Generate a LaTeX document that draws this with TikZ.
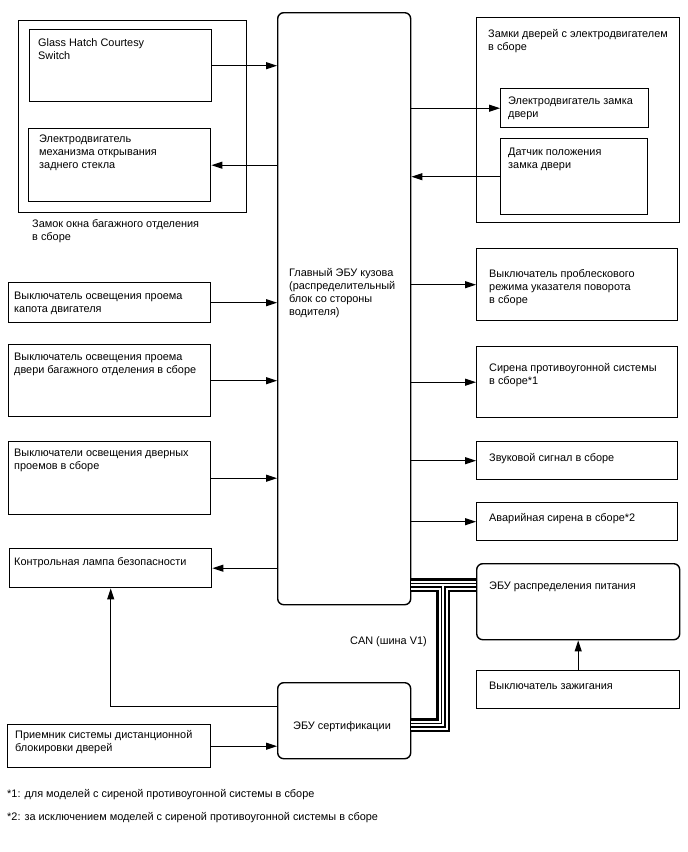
\documentclass[tikz,border=0pt]{standalone}
\usepackage{fontspec}
\setmainfont{Liberation Sans}
\usetikzlibrary{arrows.meta,positioning}

\tikzset{
  blk/.style={draw, line width=1.4pt, anchor=north west, inner sep=0pt},
  ecu/.style={blk, rounded corners=6pt},
  txt/.style={anchor=north west, inner sep=0pt, align=left, font=\fontsize{10.9}{13}\selectfont},
  sig/.style={line width=1.1pt, -{Triangle[length=11pt,width=7pt]}},
}

\begin{document}
\begin{tikzpicture}[x=1pt,y={(0pt,-1pt)}]
\useasboundingbox (0,0) rectangle (688,852);
% boxes
\node[blk, minimum width=228, minimum height=192] (hatchgrp) at (18,20) {};
\node[blk, minimum width=182, minimum height=72] (glass) at (29,29) {};
\node[blk, minimum width=182, minimum height=73] (hatchmtr) at (28,128) {};
\node[ecu, minimum width=133, minimum height=592] (main) at (277,12) {};
\node[blk, minimum width=203, minimum height=205] (doorgrp) at (476,17) {};
\node[blk, minimum width=148, minimum height=39] (lockmtr) at (500,88) {};
\node[blk, minimum width=147, minimum height=76] (locksw) at (500,138) {};
\node[blk, minimum width=202, minimum height=40] (hoodsw) at (8,282) {};
\node[blk, minimum width=202, minimum height=72] (trunksw) at (8,344) {};
\node[blk, minimum width=202, minimum height=73] (doorsw) at (8,441) {};
\node[blk, minimum width=202, minimum height=39] (lamp) at (9,548) {};
\node[blk, minimum width=203, minimum height=43] (recv) at (7,724) {};
\node[ecu, minimum width=133, minimum height=76] (cert) at (277,682) {};
\node[blk, minimum width=201, minimum height=72] (turnsw) at (476,248) {};
\node[blk, minimum width=201, minimum height=71] (siren) at (476,346) {};
\node[blk, minimum width=201, minimum height=38] (horn) at (476,441) {};
\node[blk, minimum width=201, minimum height=38] (hazard) at (476,502) {};
\node[ecu, minimum width=203, minimum height=76] (power) at (476,563) {};
\node[blk, minimum width=203, minimum height=38] (ign) at (476,670) {};
% texts
\node[txt] (glass-t) at (38,38) {Glass Hatch Courtesy\\Switch};
\node[txt] (hatchmtr-t) at (39,135) {Электродвигатель\\механизма открывания\\заднего стекла};
\node[txt] (hatchgrp-t) at (32,219) {Замок окна багажного отделения\\в сборе};
\node[txt] (main-t) at (289,268) {Главный ЭБУ кузова\\(распределительный\\блок со стороны\\водителя)};
\node[txt] (doorgrp-t) at (488,29) {Замки дверей с электродвигателем\\в сборе};
\node[txt] (lockmtr-t) at (508,97) {Электродвигатель замка\\двери};
\node[txt] (locksw-t) at (508,148) {Датчик положения\\замка двери};
\node[txt] (hoodsw-t) at (14,292) {Выключатель освещения проема\\капота двигателя};
\node[txt] (trunksw-t) at (14,353) {Выключатель освещения проема\\двери багажного отделения в сборе};
\node[txt] (doorsw-t) at (14,449) {Выключатели освещения дверных\\проемов в сборе};
\node[txt] (lamp-t) at (14,557) {Контрольная лампа безопасности};
\node[txt] (recv-t) at (15,730) {Приемник системы дистанционной\\блокировки дверей};
\node[txt] (cert-t) at (293,721) {ЭБУ сертификации};
\node[txt] (turnsw-t) at (489,269) {Выключатель проблескового\\режима указателя поворота\\в сборе};
\node[txt] (siren-t) at (489,363) {Сирена противоугонной системы\\в сборе*1};
\node[txt] (horn-t) at (489,453) {Звуковой сигнал в сборе};
\node[txt] (hazard-t) at (489,513) {Аварийная сирена в сборе*2};
\node[txt] (power-t) at (489,582) {ЭБУ распределения питания};
\node[txt] (ign-t) at (489,682) {Выключатель зажигания};
\node[txt] (can-t) at (350,636) {CAN (шина V1)};
\node[txt] (note1) at (7,789) {*1: для моделей с сиреной противоугонной системы в сборе};
\node[txt] (note2) at (7,812) {*2: за исключением моделей с сиреной противоугонной системы в сборе};
% signals
\draw[sig] (glass.east) -- (glass.east -| main.west);
\draw[sig] (hatchmtr.east -| main.west) -- (hatchmtr.east);
\draw[sig] (lockmtr.west -| main.east) -- (lockmtr.west);
\draw[sig] (locksw.west) -- (locksw.west -| main.east);
\draw[sig] (hoodsw.east) -- (hoodsw.east -| main.west);
\draw[sig] (trunksw.east) -- (trunksw.east -| main.west);
\draw[sig] (doorsw.east) -- (doorsw.east -| main.west);
\draw[sig] (lamp.east -| main.west) -- (lamp.east);
\draw[sig] (main.east |- turnsw.west) -- (turnsw.west);
\draw[sig] (main.east |- siren.west) -- (siren.west);
\draw[sig] (main.east |- horn.west) -- (horn.west);
\draw[sig] (main.east |- hazard.west) -- (hazard.west);
\draw[sig] ([yshift=14pt]cert.west) -| (lamp.south);
\draw[sig] (recv.east) -- (recv.east -| cert.west);
\draw[sig] (ign.north) -- (power.south);
% CAN bus
\coordinate (canj) at (443,585);
\coordinate (canc) at (443,725);
\foreach \w/\c in {14/black,9/white,5/black,2/white}
  \draw[line width=\w pt, \c, line join=miter] (main.east |- canj) -- (power.west |- canj)
    (canj) -- (canc) -- (cert.east |- canc);
\end{tikzpicture}
\end{document}
